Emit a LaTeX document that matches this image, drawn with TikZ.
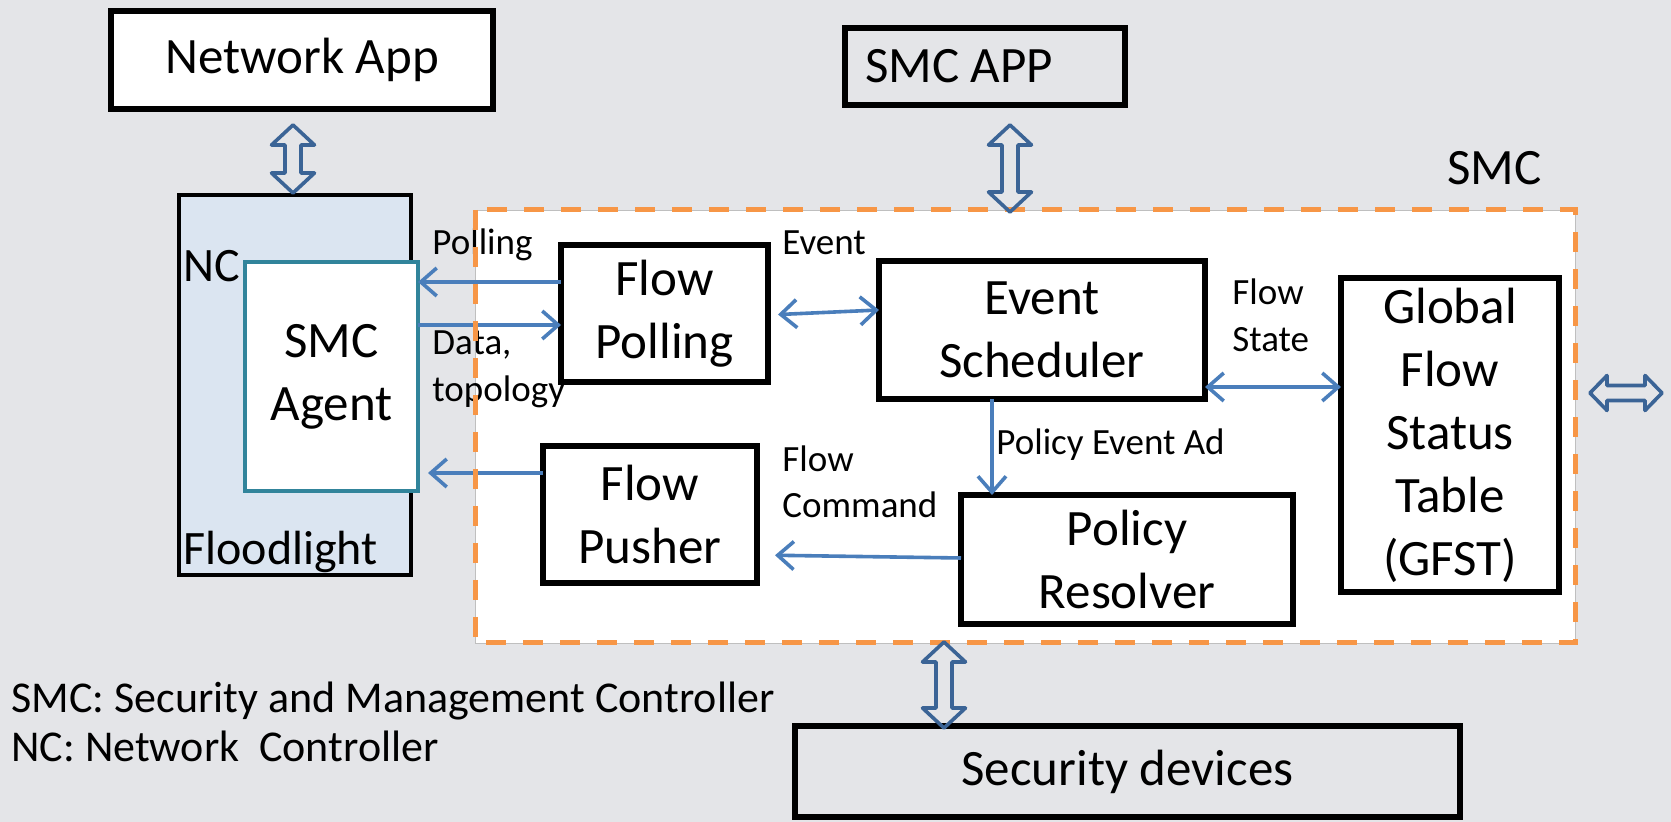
\documentclass[tikz,border=0pt]{standalone}
\usepackage{fontspec}
\setmainfont{Carlito}
\usetikzlibrary{arrows.meta,calc}

\definecolor{bgcol}{HTML}{E4E5E8}
\definecolor{ncfill}{HTML}{DBE5F1}
\definecolor{agentteal}{HTML}{31849B}
\definecolor{connblue}{HTML}{4A7EBB}
\definecolor{blockblue}{HTML}{3B6496}
\definecolor{smcorange}{HTML}{F79646}

\newcommand\boxtxt{\fontsize{25.5pt}{31.5pt}\selectfont}
\newcommand\lbltxt{\fontsize{18.5pt}{23pt}\selectfont}
\newcommand\legtxt{\fontsize{22pt}{24.5pt}\selectfont}

% hollow double block arrow, vertical: #1 top end, #2 bottom end
\newcommand\vdblarrow[2]{%
  \draw[blockarrow] let \p1=(#1), \p2=(#2) in
    (\x1,\y1) -- (\x1+10.75pt,\y1-10pt) -- (\x1+4pt,\y1-10pt) -- (\x1+4pt,\y2+10pt)
    -- (\x1+10.75pt,\y2+10pt) -- (\x1,\y2) -- (\x1-10.75pt,\y2+10pt) -- (\x1-4pt,\y2+10pt)
    -- (\x1-4pt,\y1-10pt) -- (\x1-10.75pt,\y1-10pt) -- cycle;}
% hollow double block arrow, horizontal: #1 left end, #2 right end
\newcommand\hdblarrow[2]{%
  \draw[blockarrow] let \p1=(#1), \p2=(#2) in
    (\x1,\y1) -- (\x1+8.5pt,\y1+8.75pt) -- (\x1+8.5pt,\y1+3.75pt) -- (\x2-8.5pt,\y1+3.75pt)
    -- (\x2-8.5pt,\y1+8.75pt) -- (\x2,\y1) -- (\x2-8.5pt,\y1-8.75pt) -- (\x2-8.5pt,\y1-3.75pt)
    -- (\x1+8.5pt,\y1-3.75pt) -- (\x1+8.5pt,\y1-8.75pt) -- cycle;}

\begin{document}
\begin{tikzpicture}[x=0.5pt,y=-0.5pt,
  box/.style={draw=black, line width=2.8pt, fill=white, inner sep=0pt, outer sep=0pt,
    align=center, font=\boxtxt},
  clearbox/.style={box, fill=none},
  lbl/.style={inner sep=0pt, anchor=base west, font=\lbltxt},
  conn/.style={draw=connblue, line width=1.8pt, -{Straight Barb[length=8pt,width=14pt]}},
  dconn/.style={conn, {Straight Barb[length=8pt,width=14pt]}-{Straight Barb[length=8pt,width=14pt]}},
  blockarrow/.style={draw=blockblue, line width=1.8pt, line join=round},
  smcregion/.style={draw=smcorange, line width=2.5pt, dash pattern=on 10pt off 8.5pt},
]
% canvas
\fill[bgcol] (0,0) rectangle (1671,822);
\useasboundingbox (0,0) rectangle (1671,822);

% SMC region
\fill[white] (475,210) rectangle (1575,643);
\draw[black!25, line width=0.4pt] (475,210) rectangle (1575,643);

% applications
\node[box, minimum width=191pt, minimum height=49pt] (netapp) at (302,60) {Network App};
\node[clearbox, minimum width=140pt, minimum height=38.5pt, text width=120pt,
      inner xsep=10pt, align=flush left] (smcapp) at (985,66.5) {SMC APP};

% network controller with the SMC agent
\node[draw=black, line width=2pt, fill=ncfill, inner sep=0pt,
      minimum width=116pt, minimum height=190pt] (nc) at (295,385) {};
\node[font=\fontsize{24pt}{28pt}\selectfont, inner sep=0pt, anchor=base west] (nclbl) at (183,282) {NC};
\node[font=\fontsize{24pt}{28pt}\selectfont, inner sep=0pt, anchor=base west] (fllbl) at (183,565) {Floodlight};
\node[box, draw=agentteal, line width=2pt, minimum width=86.5pt, minimum height=114.5pt]
      (agent) at (331.5,376.5) {SMC\\Agent};

% SMC components
\node[box, minimum width=103.5pt, minimum height=68.5pt] (flowpoll) at (664.5,313.5) {Flow\\Polling};
\node[box, minimum width=163pt, minimum height=69pt] (evsched) at (1042,330) {Event\\Scheduler};
\node[box, minimum width=107pt, minimum height=68.5pt] (pusher) at (650,514.5) {Flow\\Pusher};
\node[box, minimum width=166pt, minimum height=64.5pt] (resolver) at (1127,559.5) {Policy\\Resolver};
\node[box, minimum width=109pt, minimum height=157pt] (gfst) at (1450,435)
      {Global\\Flow\\Status\\Table\\(GFST)};

% security devices
\node[clearbox, minimum width=332.5pt, minimum height=45.5pt] (secdev) at (1127.5,771.5) {Security devices};

% connectors between components
\draw[conn] (flowpoll.west |- 0,282) -- (agent.east |- 0,282);
\draw[conn] (agent.east |- 0,325) -- (flowpoll.west |- 0,325);
\draw[conn, shorten >=5pt] (pusher.west |- 0,473) -- (agent.east |- 0,473);
\draw[dconn, shorten <=5pt] (flowpoll.east |- 0,315) -- (evsched.west |- 0,310);
\draw[conn] (evsched.south -| 992,0) -- (resolver.north -| 992,0);
\draw[conn, shorten >=9pt] (resolver.west |- 0,558) -- (pusher.east |- 0,555);
\draw[dconn] (evsched.east |- 0,387) -- (gfst.west |- 0,387);

% connector labels
\node[lbl] (lpoll) at (432,255) {Polling};
\node[lbl] (ldata) at (432,355) {Data,};
\node[lbl] (ltopo) at (432,402) {topology};
\node[lbl] (levent) at (782,255) {Event};
\node[lbl] (lflow1) at (1232,305) {Flow};
\node[lbl] (lstate) at (1232,352) {State};
\node[lbl] (lpea) at (996,455) {Policy Event Ad};
\node[lbl] (lflow2) at (782,472) {Flow};
\node[lbl] (lcmd) at (782,518) {Command};

% SMC boundary and its title
\draw[smcregion] (475,210) rectangle (1575,643);
\node[inner sep=0pt, anchor=base west, font=\boxtxt] (smclbl) at (1447,185) {SMC};

% block arrows to the outside
\coordinate (a1t) at (293,125);  \coordinate (a1b) at (293,193);
\coordinate (a2t) at (1010,125); \coordinate (a2b) at (1010,212);
\coordinate (a3t) at (944,642);  \coordinate (a3b) at (944,728);
\coordinate (a4l) at (1590,393); \coordinate (a4r) at (1662,393);
\vdblarrow{a1t}{a1b}
\vdblarrow{a2t}{a2b}
\vdblarrow{a3t}{a3b}
\hdblarrow{a4l}{a4r}

% legend
\node[inner sep=0pt, anchor=base west, font=\legtxt] (leg1) at (11,713) {SMC: Security and Management Controller};
\node[inner sep=0pt, anchor=base west, font=\legtxt] (leg2) at (11,762) {NC: Network\ \ Controller};
\end{tikzpicture}
\end{document}
